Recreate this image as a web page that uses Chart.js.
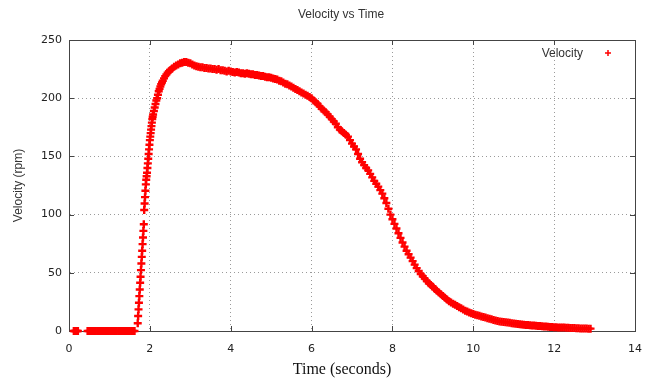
<!DOCTYPE html>
<html>
<head>
<meta charset="utf-8">
<title>Velocity vs Time</title>
<script src="https://cdn.jsdelivr.net/npm/chart.js@4.4.0/dist/chart.umd.min.js"></script>
<style>
    html, body { margin: 0; padding: 0; background: #fff; }
    #wrap { width: 654px; height: 382px; }
</style>
</head>
<body>
<div id="wrap"><canvas id="velocityChart" width="654" height="382"></canvas></div>
<script>
// Data (seconds, rpm)
const timeSec = [
    0.12, 0.14, 0.16, 0.18, 0.20, 0.22,
    0.46, 0.50, 0.54, 0.58, 0.62, 0.66, 0.70, 0.74, 0.78, 0.82, 0.86, 0.90,
    0.94, 0.98, 1.02, 1.06, 1.10, 1.14, 1.18, 1.22, 1.26, 1.30, 1.34, 1.38,
    1.42, 1.46, 1.50, 1.54, 1.58, 1.62,
    1.70, 1.71, 1.72, 1.73, 1.74, 1.75, 1.76, 1.77, 1.78, 1.79, 1.80, 1.81,
    1.82, 1.83, 1.84, 1.85,
    1.86, 1.87, 1.88, 1.89, 1.90, 1.91, 1.92, 1.93, 1.94, 1.95, 1.96, 1.97,
    1.98, 1.99, 2.00, 2.01, 2.02, 2.03, 2.04, 2.05, 2.06, 2.07, 2.08,
    2.10, 2.12, 2.14, 2.16, 2.18, 2.20, 2.22, 2.24, 2.26, 2.28, 2.30, 2.32,
    2.35, 2.38, 2.41, 2.44, 2.47, 2.50, 2.55, 2.60, 2.65, 2.70, 2.75, 2.80,
    2.85, 2.90, 2.95, 3.00, 3.05, 3.10, 3.15, 3.20, 3.25, 3.30, 3.35, 3.40,
    3.45, 3.50, 3.55, 3.60, 3.65, 3.70, 3.75, 3.80, 3.85, 3.90, 3.95, 4.00,
    4.05, 4.10, 4.15, 4.20, 4.25, 4.30, 4.35, 4.40, 4.45, 4.50, 4.55, 4.60,
    4.65, 4.70, 4.75, 4.80, 4.85, 4.90, 4.95, 5.00, 5.05, 5.10, 5.15, 5.20,
    5.25, 5.30, 5.35, 5.40, 5.45, 5.50, 5.55, 5.60, 5.65, 5.70, 5.75, 5.80,
    5.85, 5.90, 5.95, 6.00, 6.05, 6.10, 6.15, 6.20, 6.25, 6.30, 6.35, 6.40,
    6.45, 6.50, 6.55, 6.60, 6.65, 6.70, 6.75, 6.80, 6.85, 6.90, 6.95, 7.00,
    7.05, 7.10, 7.15, 7.20, 7.25, 7.30, 7.35, 7.40, 7.45, 7.50, 7.55, 7.60,
    7.65, 7.70, 7.75, 7.80, 7.85, 7.90, 7.95, 8.00, 8.05, 8.10, 8.15, 8.20,
    8.25, 8.30, 8.35, 8.40, 8.45, 8.50, 8.55, 8.60, 8.65, 8.70, 8.75, 8.80,
    8.85, 8.90, 8.95, 9.00, 9.05, 9.10, 9.15, 9.20, 9.25, 9.30, 9.35, 9.40,
    9.45, 9.50, 9.55, 9.60, 9.65, 9.70, 9.75, 9.80, 9.85, 9.90, 9.95, 10.00,
    10.05, 10.10, 10.15, 10.20, 10.25, 10.30, 10.35, 10.40, 10.45, 10.50,
    10.55, 10.60, 10.65, 10.70, 10.75, 10.80, 10.85, 10.90, 10.95, 11.00,
    11.05, 11.10, 11.15, 11.20, 11.25, 11.30, 11.35, 11.40, 11.45, 11.50,
    11.55, 11.60, 11.65, 11.70, 11.75, 11.80, 11.85, 11.90, 11.95, 12.00,
    12.05, 12.10, 12.15, 12.20, 12.25, 12.30, 12.35, 12.40, 12.45, 12.50,
    12.55, 12.60, 12.65, 12.70, 12.75, 12.80, 12.85, 12.90
];

const velocityRpm = [
    0, 0, 0, 0, 0, 0,
    0, 0, 0, 0, 0, 0, 0, 0, 0, 0, 0, 0,
    0, 0, 0, 0, 0, 0, 0, 0, 0, 0, 0, 0,
    0, 0, 0, 0, 0, 0,
    6.6, 12.9, 18.6, 24.3, 30, 35.7, 41.4, 46.6, 52.3, 58, 63.7, 68.9,
    74.6, 80.3, 86, 91.7,
    104, 109.5, 115, 120.5, 126, 130, 133, 136, 140, 144, 148, 152,
    156, 160, 164, 167, 170, 173, 176, 179, 182, 184, 186,
    189, 192, 195, 198, 200, 203, 206, 208, 210, 212, 213.5, 215,
    217, 219, 220.5, 222, 223, 224, 225.5, 227, 228, 229, 230, 230.5,
    231, 231, 230.5, 230, 229, 228, 227.5, 227, 226.5, 226.5, 226, 226,
    225.5, 225.5, 225, 225, 224.5, 225, 224, 224, 223.5, 223, 223.5, 223,
    222.5, 222, 222.5, 222, 221.5, 221.5, 221, 221.5, 221, 220.5, 220.5, 220,
    220, 219.5, 219, 219, 218.5, 218, 218, 217.5, 217, 216.5, 216, 215,
    214.5, 213.5, 212.5, 212, 211, 210, 209, 208, 207, 206, 205, 204,
    203, 202, 201, 200, 198, 196.5, 195, 193, 191, 189.5, 188, 186,
    184, 182, 180, 178, 175, 173, 171.5, 170, 168.5, 167, 164, 161,
    158.5, 156, 152, 148, 145, 142.5, 140, 138, 135, 132, 129, 126.5,
    124, 121, 118, 114, 110, 105, 100, 96, 92, 88, 84, 80,
    76, 72.5, 69, 66, 63, 60, 57, 54, 51.5, 49, 47, 45,
    43, 41, 39.5, 38, 36, 34.5, 33, 31.5, 30, 28.5, 27, 25.5,
    24.5, 23.5, 22.5, 21.5, 20.5, 19.5, 18.5, 17.5, 16.8, 16, 15.2, 14.5,
    14, 13.5, 13, 12.5, 12, 11.5, 11, 10.5, 10, 9.5,
    9, 8.5, 8.2, 8, 7.7, 7.5, 7.2, 7, 6.7, 6.5,
    6.2, 6, 5.7, 5.5, 5.3, 5.2, 5.1, 5, 4.8, 4.7,
    4.5, 4.4, 4.2, 4.1, 3.9, 3.8, 3.6, 3.5, 3.4, 3.3,
    3.2, 3.1, 3, 3, 2.9, 2.8, 2.7, 2.6, 2.5, 2.5,
    2.4, 2.3, 2.2, 2.2, 2.1, 2.1, 2, 2
];

const xTicks = { min: 0, max: 14, step: 2 };
const yTicks = { min: 0, max: 250, step: 50 };

const chartTitle = 'Velocity vs Time';
const xAxisTitle = 'Time (seconds)';
const yAxisTitle = 'Velocity (rpm)';
const seriesLabel = 'Velocity';

const points = timeSec.map((t, i) => ({ x: t, y: velocityRpm[i] }));

// gnuplot-like frame, inward ticks, title, x label and key
const gnuplotLook = {
    id: 'gnuplotLook',
    beforeDatasetsDraw(chart) {
        const { ctx, chartArea: a, scales } = chart;
        ctx.save();
        ctx.strokeStyle = '#444';
        ctx.lineWidth = 1;
        ctx.strokeRect(a.left + 0.5, a.top + 0.5, a.right - a.left, a.bottom - a.top);
        ctx.beginPath();
        scales.x.ticks.forEach(tk => {
            const px = Math.round(scales.x.getPixelForValue(tk.value)) + 0.5;
            ctx.moveTo(px, a.bottom); ctx.lineTo(px, a.bottom - 5);
            ctx.moveTo(px, a.top); ctx.lineTo(px, a.top + 5);
        });
        scales.y.ticks.forEach(tk => {
            const py = Math.round(scales.y.getPixelForValue(tk.value)) + 0.5;
            ctx.moveTo(a.left, py); ctx.lineTo(a.left + 5, py);
            ctx.moveTo(a.right, py); ctx.lineTo(a.right - 5, py);
        });
        ctx.stroke();
        ctx.restore();
    },
    afterDraw(chart) {
        const { ctx } = chart;
        ctx.save();
        ctx.fillStyle = '#333';
        ctx.textAlign = 'center';
        ctx.textBaseline = 'middle';
        ctx.font = '12px "Liberation Sans", Arial, sans-serif';
        ctx.fillText(chartTitle, 341, 15);

        ctx.fillStyle = '#111';
        ctx.font = '16px "Liberation Serif", "Times New Roman", serif';
        ctx.fillText(xAxisTitle, 342, 370);

        // key
        ctx.fillStyle = '#333';
        ctx.textAlign = 'right';
        ctx.font = '12px "Liberation Sans", Arial, sans-serif';
        ctx.fillText(chart.data.datasets[0].label, 583, 54);
        ctx.strokeStyle = '#ff0000';
        ctx.lineWidth = 1.5;
        ctx.beginPath();
        ctx.moveTo(605, 53); ctx.lineTo(611, 53);
        ctx.moveTo(608, 50); ctx.lineTo(608, 56);
        ctx.stroke();
        ctx.restore();
    }
};

const ctx = document.getElementById('velocityChart').getContext('2d');
new Chart(ctx, {
    type: 'scatter',
    data: {
        datasets: [{
            label: seriesLabel,
            data: points,
            showLine: false,
            pointStyle: 'cross',
            pointRadius: 4,
            pointBorderWidth: 2.4,
            borderColor: '#ff0000',
            backgroundColor: '#ff0000',
            clip: false
        }]
    },
    options: {
        responsive: false,
        animation: false,
        devicePixelRatio: 1,
        layout: { padding: { left: 0, top: 40, right: 13, bottom: 0 } },
        plugins: {
            legend: { display: false },
            title: { display: false },
            tooltip: { enabled: false }
        },
        scales: {
            x: {
                type: 'linear',
                min: xTicks.min,
                max: xTicks.max,
                afterFit: s => { s.height = 51; },
                ticks: {
                    stepSize: xTicks.step,
                    padding: 12,
                    color: '#222',
                    font: { family: '"DejaVu Sans", sans-serif', size: 11 }
                },
                grid: { color: '#9a9a9a', drawTicks: false },
                border: { color: '#444', dash: [1, 3] }
            },
            y: {
                type: 'linear',
                min: yTicks.min,
                max: yTicks.max,
                afterFit: s => { s.width = 69; },
                ticks: {
                    stepSize: yTicks.step,
                    padding: 7,
                    color: '#222',
                    font: { family: '"DejaVu Sans", sans-serif', size: 11 }
                },
                grid: { color: '#9a9a9a', drawTicks: false },
                border: { color: '#444', dash: [1, 3] },
                title: {
                    display: true,
                    text: yAxisTitle,
                    color: '#333',
                    padding: { top: 11, bottom: 0 },
                    font: { family: '"Liberation Sans", Arial, sans-serif', size: 12 }
                }
            }
        }
    },
    plugins: [gnuplotLook]
});
</script>
</body>
</html>
